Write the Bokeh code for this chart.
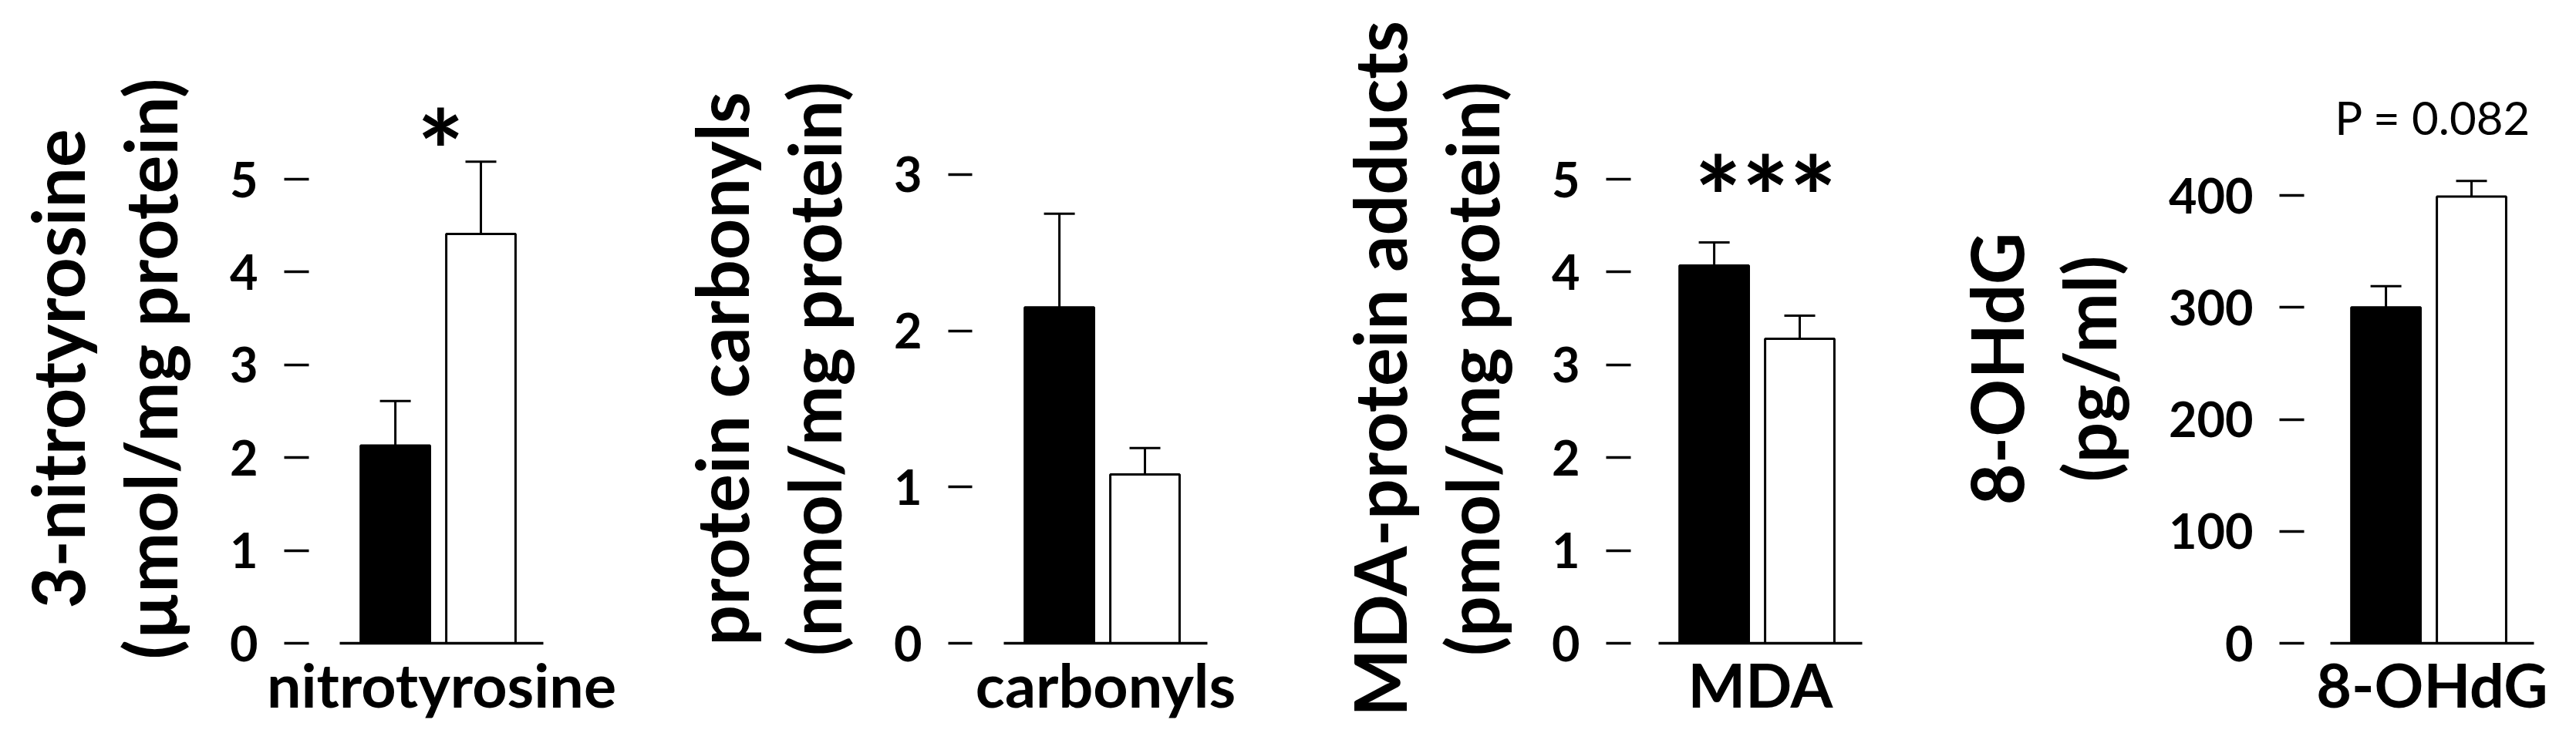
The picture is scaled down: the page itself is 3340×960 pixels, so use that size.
from bokeh.plotting import figure
from bokeh.layouts import row
from bokeh.models import FixedTicker, Whisker, TeeHead, ColumnDataSource, Range1d, Label
from bokeh.embed import file_html
from bokeh.resources import INLINE

# ---------------- data ----------------
bar_positions = [1, 2]            # group 1 (black), group 2 (white)
bar_colors = ["black", "white"]
categories = ["nitrotyrosine", "carbonyls", "MDA", "8-OHdG"]
y_titles = ["3-nitrotyrosine\n(µmol/mg protein)",
            "protein carbonyls\n(nmol/mg protein)",
            "MDA-protein adducts\n(pmol/mg protein)",
            "8-OHdG\n(pg/ml)"]

nitro_mean = [2.13, 4.41]
nitro_err = [0.48, 0.78]
carb_mean = [2.15, 1.08]
carb_err = [0.60, 0.17]
mda_mean = [4.07, 3.28]
mda_err = [0.25, 0.25]
ohdg_mean = [300, 399]
ohdg_err = [19, 14]

nitro_ticks = [0, 1, 2, 3, 4, 5]
carb_ticks = [0, 1, 2, 3]
mda_ticks = [0, 1, 2, 3, 4, 5]
ohdg_ticks = [0, 100, 200, 300, 400]

annotations = ["*", "", "***", "P = 0.082"]

means = [nitro_mean, carb_mean, mda_mean, ohdg_mean]
errs = [nitro_err, carb_err, mda_err, ohdg_err]
ticks = [nitro_ticks, carb_ticks, mda_ticks, ohdg_ticks]

# ---------------- layout / style ----------------
FIG_W = 831
FRAME_W, FRAME_H = 264, 712
BORDER_TOP, BORDER_BOTTOM = 122, 110
border_left = [440, 470, 488, 528]
y_ends = [5.914, 3.513, 5.914, 490.3]
tick_out = [72, 72, 68, 66]
tick_in = [-40, -41, -36, -34]
ann_font = ["145px", "145px", "145px", "60px"]
ann_style = ["bold", "bold", "bold", "normal"]
ann_x = [1.53, 1.5, 1.6, 1.55]
ann_pad = [0.13, 0.2, 0.5, 57]
BAR_W = 0.81
FONT = "Lato"

panels = []
for i in range(4):
    p = figure(frame_width=FRAME_W, frame_height=FRAME_H,
               output_backend="svg", toolbar_location=None,
               x_range=Range1d(0.35, 2.73), y_range=Range1d(0, y_ends[i]),
               min_border_left=border_left[i],
               min_border_right=FIG_W - border_left[i] - FRAME_W,
               min_border_top=BORDER_TOP, min_border_bottom=BORDER_BOTTOM)
    p.outline_line_color = None
    p.grid.visible = False
    p.background_fill_color = "white"
    p.border_fill_color = "white"

    src = ColumnDataSource(dict(x=bar_positions, top=means[i],
                                upper=[m + e for m, e in zip(means[i], errs[i])],
                                color=bar_colors))
    p.vbar(x="x", top="top", width=BAR_W, bottom=0, fill_color="color",
           line_color="black", line_width=3, source=src)
    p.add_layout(Whisker(source=src, base="x", upper="upper", lower="top",
                         dimension="height", line_width=3, line_color="black",
                         upper_head=TeeHead(size=40, line_width=3, line_color="black"),
                         lower_head=None))

    # y axis
    ya = p.yaxis[0]
    ya.ticker = FixedTicker(ticks=ticks[i])
    ya.axis_line_color = None
    ya.minor_tick_line_color = None
    ya.major_tick_out = tick_out[i]
    ya.major_tick_in = tick_in[i]
    ya.major_tick_line_width = 3.5
    ya.major_label_standoff = 34
    ya.major_label_text_font = FONT
    ya.major_label_text_font_style = "bold"
    ya.major_label_text_font_size = "63px"
    ya.major_label_text_color = "black"
    ya.axis_label = y_titles[i]
    ya.axis_label_text_font = FONT
    ya.axis_label_text_font_style = "bold"
    ya.axis_label_text_font_size = "93px"
    ya.axis_label_text_line_height = 1.07
    ya.axis_label_standoff = 45
    ya.axis_label_text_color = "black"

    # x axis (baseline)
    xa = p.xaxis[0]
    xa.ticker = FixedTicker(ticks=[])
    xa.axis_line_width = 3.5
    xa.axis_line_color = "black"
    xa.major_tick_line_color = None
    xa.minor_tick_line_color = None
    xa.major_label_standoff = 0
    xa.axis_label = categories[i]
    xa.axis_label_text_font = FONT
    xa.axis_label_text_font_style = "bold"
    xa.axis_label_text_font_size = "79px"
    xa.axis_label_standoff = 5
    xa.axis_label_text_color = "black"

    if annotations[i]:
        top_val = max(m + e for m, e in zip(means[i], errs[i]))
        p.add_layout(Label(x=ann_x[i], y=top_val + ann_pad[i], text=annotations[i],
                           text_font=FONT, text_font_style=ann_style[i],
                           text_font_size=ann_font[i], text_align="center",
                           text_baseline="alphabetic", text_color="black"))
    panels.append(p)

layout = row(*panels)
open("out.html", "w").write(file_html(layout, INLINE))
